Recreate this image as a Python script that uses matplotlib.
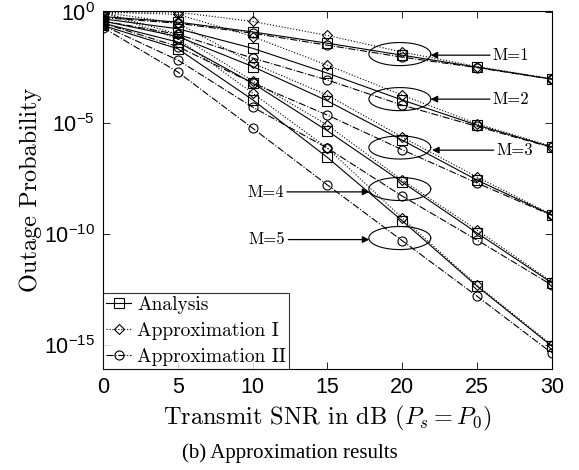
import numpy as np
import matplotlib.pyplot as plt

plt.rcParams['mathtext.fontset'] = 'cm'

snr = [0, 5, 10, 15, 20, 25, 30]

# log10 of outage probability, one row per M = 1..5
analysis_log = [
    [-0.20, -0.45, -0.89, -1.40, -1.94, -2.48, -3.02],
    [-0.30, -0.75, -1.63, -2.75, -3.96, -5.09, -6.08],
    [-0.40, -1.10, -2.45, -4.00, -5.77, -7.57, -9.14],
    [-0.50, -1.35, -3.20, -5.35, -7.66, -9.95, -12.20],
    [-0.60, -1.65, -3.95, -6.55, -9.40, -12.35, -15.05],
]
approx1_log = [
    [0.00, 0.00, -0.42, -1.05, -1.80, -2.45, -3.00],
    [0.00, -0.10, -1.10, -2.39, -3.74, -5.03, -6.05],
    [0.00, -0.50, -2.30, -3.74, -5.63, -7.43, -9.12],
    [0.00, -1.00, -3.10, -5.09, -7.57, -9.82, -12.15],
    [0.00, -1.20, -3.65, -6.13, -9.28, -12.30, -15.00],
]
approx2_log = [
    [-0.25, -0.50, -0.95, -1.49, -2.03, -2.50, -3.02],
    [-0.40, -1.00, -2.07, -3.06, -4.19, -5.15, -6.10],
    [-0.50, -1.55, -3.20, -4.64, -6.20, -7.70, -9.16],
    [-0.60, -2.16, -4.28, -6.13, -8.29, -10.27, -12.30],
    [-0.70, -2.70, -5.23, -7.79, -10.30, -12.80, -15.36],
]

m_labels = ['M=1', 'M=2', 'M=3', 'M=4', 'M=5']
ell_center_log = [-1.89, -3.92, -6.10, -7.97, -10.18]

fig = plt.figure(figsize=(5.79, 4.70), dpi=100)
ax = fig.add_axes([0.178, 0.215, 0.775, 0.762])

mk = dict(markersize=6.5, markerfacecolor='none', markeredgecolor='k',
          markeredgewidth=0.8, color='k', linewidth=0.8)
handles = []
for i in range(5):
    h1, = ax.plot(snr, 10.0 ** np.array(analysis_log[i]), '-', marker='s', **mk)
    h2, = ax.plot(snr, 10.0 ** np.array(approx1_log[i]), ':', marker='D',
                  **{**mk, 'markersize': 5.5})
    h3, = ax.plot(snr, 10.0 ** np.array(approx2_log[i]), '-.', marker='o', **mk)
    if i == 0:
        handles = [h1, h2, h3]

ax.set_yscale('log')
ax.set_xlim(0, 30)
ax.set_ylim(10 ** -16.08, 10 ** 0.06)

# ellipses around the M groups at 20 dB
t = np.linspace(0, 2 * np.pi, 200)
for c in ell_center_log:
    ax.plot(19.84 + 2.07 * np.cos(t), 10 ** (c + 0.52 * np.sin(t)),
            color='k', lw=0.8, clip_on=False)

arr = dict(arrowstyle='-|>', color='k', lw=0.9, mutation_scale=10,
           shrinkA=0, shrinkB=0)
tfont = dict(family='cmr10', fontsize=12, va='center')
for i, (tx, ty, px) in enumerate([(26.05, -1.94, 21.9), (26.05, -3.92, 21.9),
                                  (26.3, -6.22, 22.0)]):
    ax.annotate(m_labels[i], xy=(px, 10 ** ty), xytext=(tx, 10 ** ty),
                ha='left', arrowprops=arr, **tfont)
for i, (tx, ty, px) in zip([3, 4], [(12.1, -8.1, 17.8), (12.2, -10.25, 17.8)]):
    ax.annotate(m_labels[i], xy=(px, 10 ** ty), xytext=(tx, 10 ** ty),
                ha='right', arrowprops=arr, **tfont)

ax.set_xticks(snr)
ax.set_xticklabels([str(v) for v in snr], family='Liberation Sans', fontsize=15.5)
ax.set_yticks([1, 1e-5, 1e-10, 1e-15])
ax.set_yticklabels([r'$\mathregular{10^{0}}$', r'$\mathregular{10^{-5}}$',
                    r'$\mathregular{10^{-10}}$', r'$\mathregular{10^{-15}}$'],
                   family='Liberation Sans', fontsize=15.5)
ax.yaxis.set_minor_locator(plt.NullLocator())
ax.tick_params(direction='in', top=True, right=True, length=5, width=0.6, pad=6)
for s in ax.spines.values():
    s.set_linewidth(0.8)

ax.set_xlabel(r'Transmit SNR in dB ($P_s = P_0$)', family='cmr10', fontsize=17.5, labelpad=4)
ax.set_ylabel('Outage Probability', family='cmr10', fontsize=17.5, labelpad=1)

leg = ax.legend(handles, ['Analysis', 'Approximation I', 'Approximation II'],
                loc='lower left', prop={'family': 'cmr10', 'size': 14},
                frameon=True, fancybox=False, borderpad=0.15, labelspacing=0.42,
                handlelength=1.3, handletextpad=0.3, borderaxespad=0)
leg.get_frame().set_edgecolor('k')
leg.get_frame().set_linewidth(0.8)

fig.text(0.5, 0.036, '(b) Approximation results', family='Liberation Serif',
         fontsize=15, ha='center', va='center')

fig.savefig('out.png', dpi=100)
